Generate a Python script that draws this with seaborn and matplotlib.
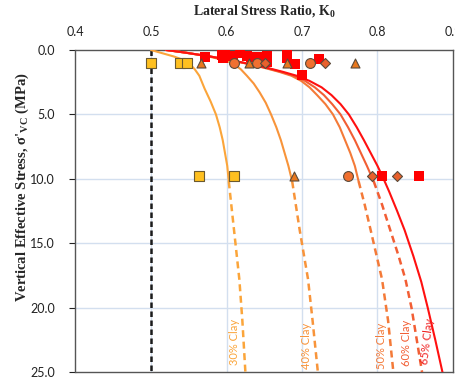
import numpy as np
import pandas as pd
import matplotlib
matplotlib.use("Agg")
import matplotlib.pyplot as plt
import seaborn as sns

# ---------------- data ----------------
# curve traces (K0 vs vertical effective stress, MPa)
c30_solid_sig = [0.0, 0.25, 0.5, 0.75, 1.0, 1.5, 2.0, 3.0, 4.0, 5.0, 6.0, 7.0, 8.0, 9.0, 10.2]
c30_solid_k   = [0.500, 0.515, 0.530, 0.542, 0.550, 0.558, 0.564, 0.571, 0.579, 0.586, 0.591, 0.595, 0.598, 0.601, 0.603]
c30_dash_sig  = [10.2, 14.0, 17.8, 21.0, 25.0]
c30_dash_k    = [0.603, 0.610, 0.617, 0.621, 0.625]

c40_solid_sig = [0.0, 0.2, 0.5, 0.8, 1.1, 1.5, 2.0, 2.6, 3.3, 4.1, 5.0, 6.0, 7.0, 8.0, 9.0, 10.2]
c40_solid_k   = [0.520, 0.545, 0.576, 0.598, 0.610, 0.619, 0.627, 0.636, 0.644, 0.652, 0.659, 0.666, 0.672, 0.677, 0.682, 0.687]
c40_dash_sig  = [10.2, 14.0, 17.8, 21.0, 25.0]
c40_dash_k    = [0.687, 0.697, 0.708, 0.714, 0.721]

c50_solid_sig = [0.0, 0.2, 0.5, 0.8, 1.1, 1.4, 1.7, 2.0, 2.4, 2.9, 3.5, 4.2, 5.0, 6.0, 7.0, 8.0, 9.0, 10.2]
c50_solid_k   = [0.520, 0.545, 0.578, 0.606, 0.630, 0.651, 0.670, 0.686, 0.699, 0.710, 0.720, 0.731, 0.741, 0.750, 0.757, 0.764, 0.770, 0.775]
c50_dash_sig  = [10.2, 12.0, 14.0, 17.8, 21.0, 25.0]
c50_dash_k    = [0.775, 0.783, 0.791, 0.806, 0.814, 0.821]

c60_solid_sig = [0.0, 0.2, 0.5, 0.8, 1.1, 1.4, 1.7, 2.0, 2.4, 2.9, 3.5, 4.2, 5.0, 6.0, 7.0, 8.0, 9.0, 10.2]
c60_solid_k   = [0.520, 0.545, 0.578, 0.606, 0.631, 0.653, 0.672, 0.689, 0.704, 0.717, 0.729, 0.740, 0.751, 0.761, 0.770, 0.778, 0.786, 0.795]
c60_dash_sig  = [10.2, 12.0, 14.0, 16.0, 17.8, 20.0, 22.5, 25.0]
c60_dash_k    = [0.795, 0.806, 0.817, 0.828, 0.837, 0.845, 0.852, 0.859]

c65_sig = [0.0, 0.2, 0.5, 0.8, 1.1, 1.4, 1.7, 2.0, 2.4, 2.9, 3.5, 4.2, 5.0, 6.0, 7.0, 8.0,
           9.0, 10.0, 11.0, 12.5, 14.0, 16.0, 18.0, 20.0, 22.5, 25.0]
c65_k   = [0.520, 0.545, 0.578, 0.607, 0.632, 0.655, 0.675, 0.693, 0.710, 0.726, 0.739, 0.751, 0.762, 0.7725, 0.782, 0.791,
           0.800, 0.808, 0.8155, 0.826, 0.836, 0.8475, 0.858, 0.8665, 0.8765, 0.886]

# measured points
sq_y_k   = [0.500, 0.539, 0.548, 0.564, 0.610]
sq_y_sig = [1.0, 1.0, 1.0, 9.75, 9.75]

tri_k    = [0.566, 0.630, 0.680, 0.770, 0.690]
tri_sig  = [1.0, 1.0, 1.0, 1.0, 9.75]

circ_k   = [0.610, 0.641, 0.710, 0.761]
circ_sig = [1.0, 1.0, 1.0, 9.75]

dia_k    = [0.651, 0.730, 0.793, 0.826]
dia_sig  = [1.0, 1.0, 9.75, 9.75]

red_k   = [0.572, 0.594, 0.598, 0.596, 0.609, 0.618, 0.627, 0.633, 0.640, 0.653, 0.653,
           0.680, 0.680, 0.691, 0.700, 0.722, 0.806, 0.855]
red_sig = [0.52, 0.39, 0.31, 0.64, 0.47, 0.21, 0.47, 0.52, 0.52, 0.45, 0.90,
           0.26, 0.64, 1.08, 1.94, 0.70, 9.75, 9.75]

clay_labels = ["30% Clay", "40% Clay", "50% Clay", "60% Clay", "65% Clay"]

# ---------------- style ----------------
sns.set_theme(style="white")
plt.rcParams["font.family"] = ["Lato", "DejaVu Sans"]
plt.rcParams["mathtext.fontset"] = "custom"
plt.rcParams["mathtext.rm"] = "Liberation Serif:bold"
plt.rcParams["mathtext.bf"] = "Liberation Serif:bold"
plt.rcParams["mathtext.it"] = "Liberation Serif:bold:italic"

col30 = "#FBA53A"
col40 = "#F8943A"
col50 = "#F47A38"
col60 = "#F25E34"
col65 = "#FF1010"

fig = plt.figure(figsize=(4.56, 3.78), dpi=100)
ax = fig.add_axes([75.5 / 456, 1 - 372 / 378, (453 - 75.5) / 456, (372 - 50) / 378])

grid_col = "#D3DFEF"
for xv in [0.5, 0.6, 0.7, 0.8]:
    ax.axvline(xv, color=grid_col, lw=1.0, zorder=0)
for yv in [5, 10, 15, 20]:
    ax.axhline(yv, color=grid_col, lw=1.0, zorder=0)

# black dashed reference line K0 = 0.5
ax.plot([0.5, 0.5], [0, 25], color="#1a1a1a", lw=1.8, linestyle=(0, (2.2, 1.4)), zorder=2)

def curve(k, s, color, dashed=False, lw=1.5):
    df = pd.DataFrame({"K": k, "S": s})
    kw = dict(linestyle=(0, (2.8, 1.8))) if dashed else {}
    sns.lineplot(data=df, x="K", y="S", sort=False, estimator=None, color=color,
                 lw=lw, ax=ax, zorder=3, **kw)

curve(c30_solid_k, c30_solid_sig, col30)
curve(c30_dash_k, c30_dash_sig, col30, dashed=True, lw=1.8)
curve(c40_solid_k, c40_solid_sig, col40)
curve(c40_dash_k, c40_dash_sig, col40, dashed=True, lw=1.8)
curve(c50_solid_k, c50_solid_sig, col50)
curve(c50_dash_k, c50_dash_sig, col50, dashed=True, lw=1.8)
curve(c60_solid_k, c60_solid_sig, col60)
curve(c60_dash_k, c60_dash_sig, col60, dashed=True, lw=1.8)
curve(c65_k, c65_sig, col65, lw=1.5)

edge = "#5a4a3a"
sns.scatterplot(x=sq_y_k, y=sq_y_sig, marker="s", s=48, color="#FFC020",
                edgecolor="#6b5a30", linewidth=0.8, ax=ax, zorder=5)
sns.scatterplot(x=red_k, y=red_sig, marker="s", s=52, color="#FF0000",
                edgecolor="none", linewidth=0, ax=ax, zorder=4)
sns.scatterplot(x=tri_k, y=tri_sig, marker="^", s=42, color="#E8781E",
                edgecolor=edge, linewidth=0.8, ax=ax, zorder=5)
sns.scatterplot(x=circ_k, y=circ_sig, marker="o", s=50, color="#F07030",
                edgecolor=edge, linewidth=0.8, ax=ax, zorder=5)
sns.scatterplot(x=dia_k, y=dia_sig, marker="D", s=26, color="#E8602C",
                edgecolor=edge, linewidth=0.8, ax=ax, zorder=5)

# clay labels
lab_pos = [(0.611, 22.7, col30, 90), (0.706, 23.0, col40, 90), (0.8056, 23.0, col50, 90),
           (0.8387, 22.7, col60, 90), (0.8655, 22.6, "#F02020", 83)]
for (x, y, c, r), t in zip(lab_pos, clay_labels):
    ax.text(x, y, t, color=c, rotation=r, fontsize=8, ha="center", va="center", zorder=6)

ax.set_xlim(0.4, 0.9)
ax.set_ylim(25, 0)
ax.xaxis.tick_top()
ax.xaxis.set_label_position("top")
ax.set_xticks([0.4, 0.5, 0.6, 0.7, 0.8, 0.9])
ax.set_xticklabels(["0.4", "0.5", "0.6", "0.7", "0.8", "0.9"])
ax.set_yticks([0, 5, 10, 15, 20, 25])
ax.set_yticklabels(["0.0", "5.0", "10.0", "15.0", "20.0", "25.0"])
ax.tick_params(axis="both", labelsize=9, colors="#222222", length=4, width=0.8,
               direction="out")
ax.tick_params(axis="x", top=True, bottom=False, length=0, pad=9)
ax.tick_params(axis="y", left=True, pad=11)

for sp in ax.spines.values():
    sp.set_color("#555555")
    sp.set_linewidth(1.0)

ax.set_xlabel(r"Lateral Stress Ratio, K$_{0}$", fontfamily="Liberation Serif",
              fontweight="bold", fontsize=10, labelpad=8)
ax.set_ylabel(r"Vertical Effective Stress, σ'$_{\mathrm{VC}}$ (MPa)", fontfamily="Liberation Serif",
              fontweight="bold", fontsize=10.5)
ax.yaxis.set_label_coords(-0.118, 0.573)

fig.savefig("out.png", dpi=100)
